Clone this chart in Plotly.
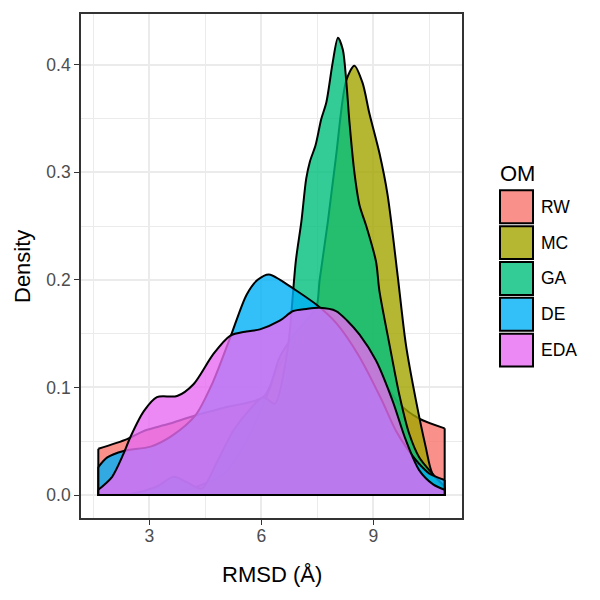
import plotly.graph_objects as go

# ---------------- data ----------------
groups = ["RW", "MC", "GA", "DE", "EDA"]
colors = ["#F8766D", "#A3A500", "#00BF7D", "#00B0F6", "#E76BF3"]

rw_x = [1.63, 2.4, 2.88, 3.5, 4.23, 5.1, 6.05, 6.4, 6.8, 7.2, 7.65, 8.2, 8.63, 9.2, 9.69, 10.23, 10.91]
rw_y = [0.043, 0.052, 0.060, 0.066, 0.074, 0.082, 0.091, 0.115, 0.140, 0.160, 0.170, 0.162, 0.143, 0.110, 0.085, 0.071, 0.062]

mc_x = [1.63, 3.0, 4.0, 5.0, 5.6, 6.0, 6.23, 6.49, 6.9, 7.2, 7.47, 7.56, 7.78, 8.0, 8.27, 8.49, 8.71, 8.89, 9.16, 9.38, 9.65, 9.87, 10.14, 10.4, 10.58, 10.91]
mc_y = [0.0, 0.002, 0.005, 0.02, 0.05, 0.08, 0.10, 0.128, 0.150, 0.162, 0.174, 0.20, 0.254, 0.315, 0.385, 0.399, 0.383, 0.355, 0.318, 0.279, 0.204, 0.140, 0.088, 0.045, 0.020, 0.006]

ga_x = [1.63, 2.5, 3.2, 3.65, 4.0, 4.4, 4.8, 5.25, 5.7, 6.05, 6.36, 6.67, 6.76, 6.92, 7.07, 7.2, 7.3, 7.45, 7.6, 7.74, 7.91, 8.05, 8.18, 8.27, 8.36, 8.49, 8.63, 8.8, 9.07, 9.16, 9.43, 9.69, 9.96, 10.23, 10.58, 10.91]
ga_y = [0.0, 0.001, 0.008, 0.017, 0.012, 0.006, 0.030, 0.060, 0.080, 0.091, 0.085, 0.128, 0.152, 0.217, 0.254, 0.294, 0.310, 0.325, 0.349, 0.365, 0.402, 0.425, 0.414, 0.386, 0.346, 0.300, 0.269, 0.251, 0.217, 0.190, 0.140, 0.094, 0.057, 0.035, 0.020, 0.008]

de_x = [1.63, 1.87, 2.31, 3.03, 3.6, 4.23, 4.7, 5.16, 5.6, 5.9, 6.2, 6.5, 6.85, 7.47, 8.0, 8.6, 9.2, 9.6, 9.87, 10.2, 10.5, 10.91]
de_y = [0.026, 0.035, 0.041, 0.045, 0.055, 0.074, 0.105, 0.146, 0.186, 0.200, 0.205, 0.200, 0.192, 0.177, 0.160, 0.130, 0.090, 0.060, 0.045, 0.030, 0.020, 0.014]

eda_x = [1.63, 2.0, 2.3, 2.49, 2.85, 3.2, 3.74, 4.18, 4.71, 5.16, 5.6, 5.96, 6.49, 6.85, 7.2, 7.56, 8.0, 8.3, 8.63, 9.07, 9.51, 9.87, 10.23, 10.6, 10.91]
eda_y = [0.005, 0.017, 0.038, 0.054, 0.078, 0.091, 0.092, 0.103, 0.131, 0.148, 0.152, 0.154, 0.162, 0.171, 0.173, 0.174, 0.171, 0.162, 0.149, 0.125, 0.088, 0.051, 0.023, 0.010, 0.005]

series_x = [rw_x, mc_x, ga_x, de_x, eda_x]
series_y = [rw_y, mc_y, ga_y, de_y, eda_y]

x_title = "RMSD (Å)"
y_title = "Density"
legend_title = "OM"
x_ticks = [3, 6, 9]
y_ticks = [0.0, 0.1, 0.2, 0.3, 0.4]
# ----------------------------------------------------------------

FONT = "Liberation Sans"
ALPHA = 0.8


def rgba(hex_color, a):
    h = hex_color.lstrip("#")
    r, g, b = int(h[0:2], 16), int(h[2:4], 16), int(h[4:6], 16)
    return f"rgba({r},{g},{b},{a})"


fig = go.Figure()
for name, col, xs, ys in zip(groups, colors, series_x, series_y):
    # filled density area with the smooth upper outline
    fig.add_trace(go.Scatter(
        x=xs, y=ys, mode="lines", fill="tozeroy",
        fillcolor=rgba(col, ALPHA),
        line=dict(color="black", width=2, shape="spline", smoothing=0.8),
        name=name, showlegend=False, hoverinfo="skip",
    ))
    # closing edges of the polygon (vertical sides and baseline)
    fig.add_trace(go.Scatter(
        x=[xs[0], xs[0], xs[-1], xs[-1]], y=[ys[0], 0, 0, ys[-1]],
        mode="lines", line=dict(color="black", width=2),
        showlegend=False, hoverinfo="skip",
    ))

grid = "#EBEBEB"
common = dict(
    showgrid=True, gridcolor=grid, gridwidth=1.8,
    ticks="outside", ticklen=5, tickwidth=1.3, tickcolor="#333333",
    showline=True, linecolor="#333333", linewidth=1.6, mirror=True,
    zeroline=False, tickfont=dict(family=FONT, size=17.5, color="#4D4D4D"),
)
fig.update_xaxes(
    range=[1.166, 11.374], tickvals=x_ticks, ticktext=[str(v) for v in x_ticks],
    minor=dict(dtick=1.5, tick0=0, showgrid=True, gridcolor=grid, gridwidth=0.9, ticks=""),
    ticklabelstandoff=-4, **common,
)
fig.update_yaxes(
    range=[-0.0213, 0.4470], tickvals=y_ticks, ticktext=[f"{v:.1f}" for v in y_ticks],
    minor=dict(dtick=0.05, tick0=0, showgrid=True, gridcolor=grid, gridwidth=0.9, ticks=""),
    **common,
)

L, R, T, B = 81, 462, 12, 518
pw, ph = R - L, B - T


def px_x(p):
    return (p - L) / pw


def px_y(p):
    return (B - p) / ph


shapes = []
annotations = []
# legend (manual, ggplot style)
key_top0, key_h, key_step = 189, 33, 36
for i, (name, col) in enumerate(zip(groups, colors)):
    top = key_top0 + i * key_step
    shapes.append(dict(type="rect", xref="paper", yref="paper",
                       x0=px_x(500), x1=px_x(533), y0=px_y(top + key_h), y1=px_y(top),
                       fillcolor=rgba(col, ALPHA), line=dict(color="black", width=2)))
    annotations.append(dict(text=name, xref="paper", yref="paper", x=px_x(539), y=px_y(top + key_h / 2),
                            xanchor="left", yanchor="middle", showarrow=False,
                            font=dict(family=FONT, size=17.5, color="black")))
annotations.append(dict(text=legend_title, xref="paper", yref="paper", x=px_x(498), y=px_y(172),
                        xanchor="left", yanchor="middle", showarrow=False,
                        font=dict(family=FONT, size=22, color="black")))
annotations.append(dict(text=x_title, xref="paper", yref="paper", x=0.5, y=px_y(575),
                        xanchor="center", yanchor="middle", showarrow=False,
                        font=dict(family=FONT, size=22, color="black")))
annotations.append(dict(text=y_title, xref="paper", yref="paper", x=px_x(22), y=0.5,
                        xanchor="center", yanchor="middle", showarrow=False, textangle=-90,
                        font=dict(family=FONT, size=22, color="black")))

fig.update_layout(
    width=600, height=600,
    margin=dict(l=L, r=600 - R, t=T, b=600 - B),
    paper_bgcolor="white", plot_bgcolor="white",
    showlegend=False, shapes=shapes, annotations=annotations,
)

fig.write_html("out.html")
